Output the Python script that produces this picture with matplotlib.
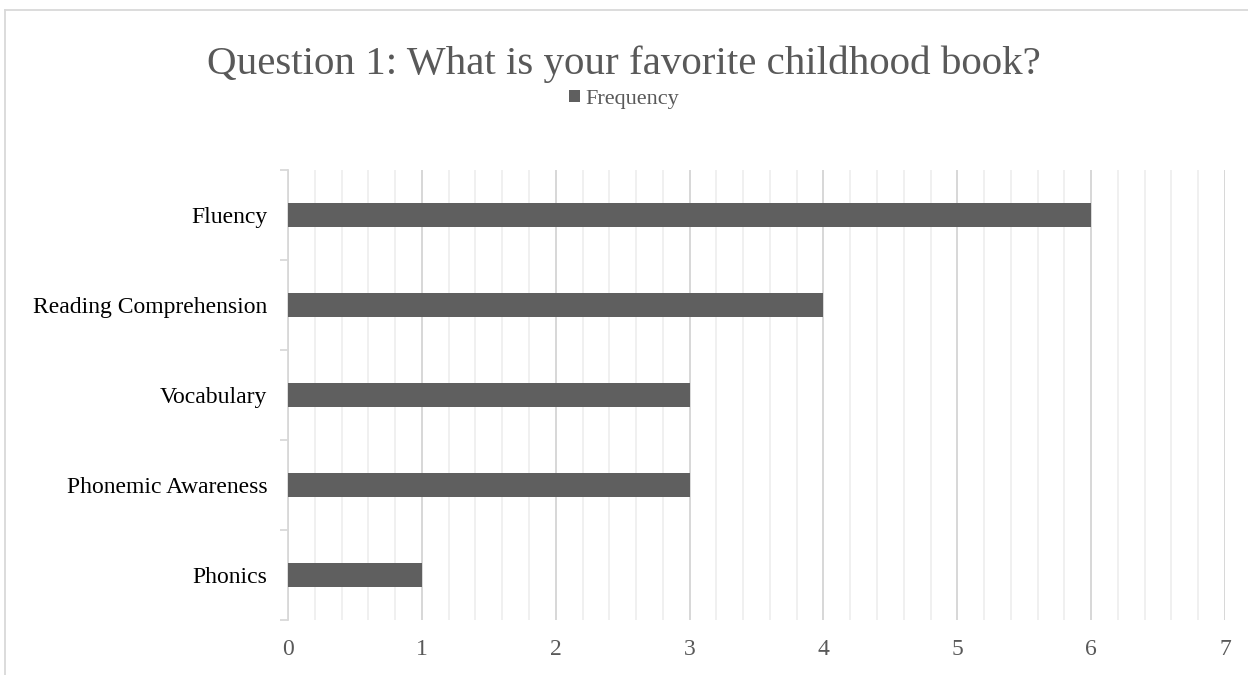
import matplotlib
matplotlib.use("Agg")
import matplotlib.pyplot as plt
from matplotlib.lines import Line2D
from matplotlib.ticker import MultipleLocator, FixedLocator, NullFormatter
import numpy as np

# data (bottom to top)
categories = ["Phonics", "Phonemic Awareness", "Vocabulary",
              "Reading Comprehension", "Fluency"]
frequency = [1, 3, 3, 4, 6]
x_ticks = [0, 1, 2, 3, 4, 5, 6, 7]

bar_color = "#5f5f5f"
text_color = "#595959"
serif = "Liberation Serif"

fig = plt.figure(figsize=(12.48, 6.75), dpi=100)
ax = fig.add_axes([0.2308, 0.0815, 0.7508, 0.6667])

y = np.arange(len(categories))
ax.barh(y, frequency, height=0.27, color=bar_color, zorder=3, label="Frequency")

ax.set_xlim(0, 7)
ax.set_ylim(-0.5, len(categories) - 0.5)

# grid: major at integers, minor every 0.2
ax.xaxis.set_major_locator(FixedLocator(x_ticks))
ax.xaxis.set_minor_locator(MultipleLocator(0.2))
ax.grid(axis="x", which="major", color="#d4d4d4", linewidth=1.3, zorder=0)
ax.grid(axis="x", which="minor", color="#efefef", linewidth=1.3, zorder=0)
ax.tick_params(axis="x", which="both", length=0, pad=14)

# y axis: labels at centers, small ticks at category boundaries
ax.set_yticks(y)
ax.set_yticklabels(categories)
ax.yaxis.set_minor_locator(FixedLocator(np.arange(-0.5, len(categories), 1.0)))
ax.yaxis.set_minor_formatter(NullFormatter())
ax.tick_params(axis="y", which="major", length=0, pad=15)
ax.tick_params(axis="y", which="minor", length=6, width=1.3, color="#d9d9d9")

for lbl in ax.get_yticklabels():
    lbl.set_fontfamily(serif)
    lbl.set_fontsize(17)
    lbl.set_color("black")
for lbl in ax.get_xticklabels():
    lbl.set_fontfamily(serif)
    lbl.set_fontsize(17)
    lbl.set_color(text_color)

for side in ["top", "right", "bottom"]:
    ax.spines[side].set_visible(False)
ax.spines["left"].set_color("#d9d9d9")
ax.spines["left"].set_linewidth(1.3)

fig.text(0.5, 0.905, "Question 1: What is your favorite childhood book?",
         ha="center", va="center", fontsize=29.5, family=serif, color=text_color)

leg = fig.legend(loc="center", bbox_to_anchor=(0.5, 0.853), frameon=False,
                 prop={"family": serif, "size": 16}, handlelength=0.5,
                 handleheight=0.5, handletextpad=0.2)
for t in leg.get_texts():
    t.set_color(text_color)

# outer chart border (top and left visible)
fig.add_artist(Line2D([0.004, 1.0], [0.985, 0.985], transform=fig.transFigure,
                      color="#d9d9d9", linewidth=1.3))
fig.add_artist(Line2D([0.004, 0.004], [0.0, 0.985], transform=fig.transFigure,
                      color="#d9d9d9", linewidth=1.3))

fig.savefig("out.png", dpi=100)
